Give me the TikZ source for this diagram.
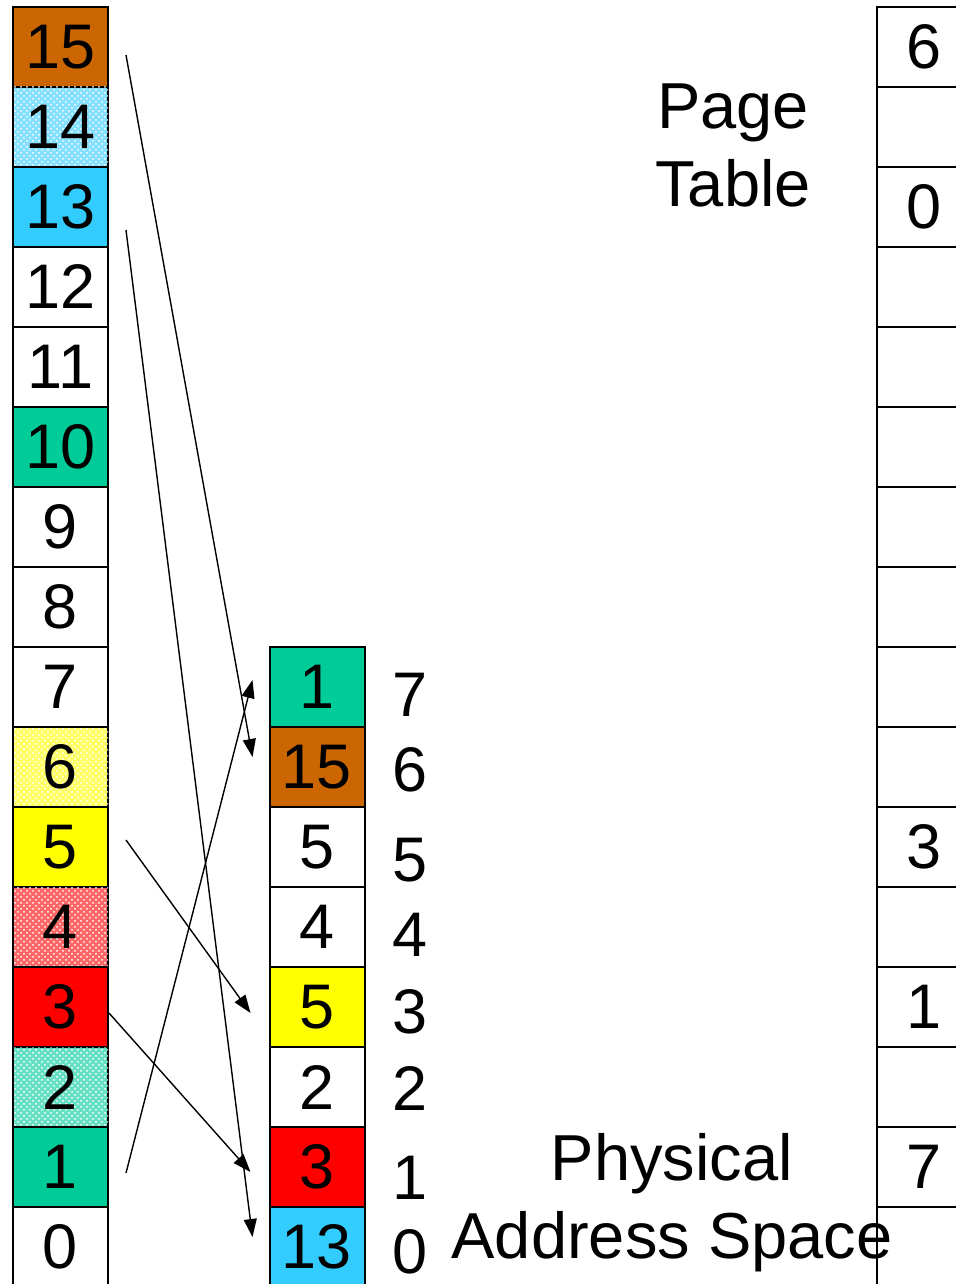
\documentclass[tikz,border=0pt]{standalone}
\usepackage{fontspec}
\setmainfont{Liberation Sans}
\usetikzlibrary{arrows.meta,patterns,positioning}
\definecolor{pgorange}{HTML}{CC6600}
\definecolor{pgcyan}{HTML}{33CCFF}
\definecolor{pggreen}{HTML}{00CC99}
\definecolor{pgyellow}{HTML}{FFFF00}
\definecolor{pgred}{HTML}{FF0000}
\newcommand{\bigfont}{\fontsize{31.5}{39}\selectfont}
\tikzset{
  page cell/.style={draw,line width=1pt,minimum width=47.5pt,minimum height=40pt,inner sep=0pt,font=\bigfont},
  plain cell/.style={fill=white},
  orange cell/.style={fill=pgorange},
  cyan cell/.style={fill=pgcyan},
  green cell/.style={fill=pggreen},
  yellow cell/.style={fill=pgyellow},
  red cell/.style={fill=pgred},
  cyan dots/.style={fill=pgcyan!60,postaction={pattern=crosshatch dots,pattern color=white}},
  yellow dots/.style={fill=pgyellow!60,postaction={pattern=crosshatch dots,pattern color=white}},
  red dots/.style={fill=pgred!60,postaction={pattern=crosshatch dots,pattern color=white}},
  green dots/.style={fill=pggreen!60,postaction={pattern=crosshatch dots,pattern color=white}},
  frame label/.style={font=\bigfont,inner sep=0pt},
  big text/.style={font=\fontsize{32.5}{39}\selectfont,align=center,inner sep=0pt},
  map arrow/.style={-{Triangle[length=9pt,width=6.5pt]},line width=0.7pt},
}
\begin{document}
\begin{tikzpicture}[x=0.5pt,y=-0.5pt]
  \useasboundingbox (0,0) rectangle (955,1284);
  % logical pages
  \foreach \n/\s in {15/orange cell,14/cyan dots,13/cyan cell,12/plain cell,11/plain cell,
      10/green cell,9/plain cell,8/plain cell,7/plain cell,6/yellow dots,5/yellow cell,
      4/red dots,3/red cell,2/green dots,1/green cell,0/plain cell}
    \node[page cell,\s] (p\n) at (60.5,{1247-80*\n}) {\n};
  % physical frames
  \foreach \f/\n/\s in {7/1/green cell,6/15/orange cell,5/5/plain cell,4/4/plain cell,
      3/5/yellow cell,2/2/plain cell,1/3/red cell,0/13/cyan cell}
    \node[page cell,\s] (f\f) at (317,{1247-80*\f}) {\n};
  \node[frame label] (fn7) at (410,695) {7};
  \node[frame label] (fn6) at (410,770) {6};
  \node[frame label] (fn5) at (410,860) {5};
  \node[frame label] (fn4) at (410,935) {4};
  \node[frame label] (fn3) at (410,1012) {3};
  \node[frame label] (fn2) at (410,1088) {2};
  \node[frame label] (fn1) at (410,1178) {1};
  \node[frame label] (fn0) at (410,1252) {0};
  % page table
  \foreach \n/\v in {15/6,14/,13/0,12/,11/,10/,9/,8/,7/,6/,5/3,4/,3/1,2/,1/7,0/}
    \node[page cell,plain cell] (pt\n) at (924.5,{1247-80*\n}) {\v};
  \node[big text] (ptlabel) at (733,145) {Page\\Table};
  \node[big text] (pslabel) at (672,1203) {Physical\\Address Space};
  % mapping
  \draw[map arrow] ([shift={(17,8)}]p15.east) -- ([shift={(-16,-10)}]f6.west);
  \draw[map arrow] ([shift={(17,23)}]p13.east) -- ([shift={(-16,-10)}]f0.west);
  \draw[map arrow] ([shift={(17,-7)}]p5.east) -- ([shift={(-18,6)}]f3.west);
  \draw[map arrow] ([shift={(0,6)}]p3.east) -- ([shift={(-18,5)}]f1.west);
  \draw[map arrow] ([shift={(17,6)}]p1.east) -- ([shift={(-16,-7)}]f7.west);
\end{tikzpicture}
\end{document}
